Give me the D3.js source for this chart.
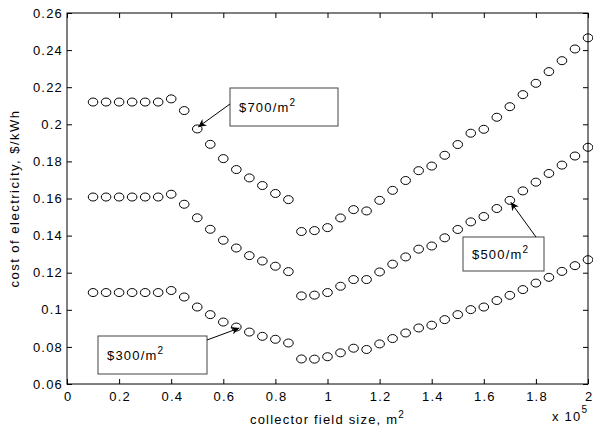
<!DOCTYPE html>
<html>
<head>
<meta charset="utf-8">
<script src="https://cdn.jsdelivr.net/npm/d3@7/dist/d3.min.js"></script>
<style>
  html, body { margin: 0; padding: 0; background: #fff; }
  svg { display: block; font-family: "Liberation Sans", Arial, sans-serif; }
</style>
</head>
<body>
<svg id="chart" width="593" height="430"></svg>
<script>
// Collector field size (x 10^5 m^2)
const fieldSize = [0.10, 0.15, 0.20, 0.25, 0.30, 0.35, 0.40, 0.45, 0.50, 0.55,
  0.60, 0.65, 0.70, 0.75, 0.80, 0.85, 0.90, 0.95, 1.00, 1.05,
  1.10, 1.15, 1.20, 1.25, 1.30, 1.35, 1.40, 1.45, 1.50, 1.55,
  1.60, 1.65, 1.70, 1.75, 1.80, 1.85, 1.90, 1.95, 2.00];

// Cost of electricity ($/kWh) for each collector price
const cost700 = [0.2120, 0.2120, 0.2120, 0.2120, 0.2120, 0.2120, 0.2137, 0.2074, 0.1975, 0.1892,
  0.1815, 0.1756, 0.1711, 0.1670, 0.1627, 0.1594, 0.1422, 0.1427, 0.1443, 0.1495,
  0.1540, 0.1533, 0.1590, 0.1644, 0.1697, 0.1750, 0.1775, 0.1833, 0.1891, 0.1952,
  0.1973, 0.2038, 0.2095, 0.2160, 0.2221, 0.2284, 0.2343, 0.2406, 0.2466];

const cost500 = [0.1608, 0.1608, 0.1608, 0.1608, 0.1608, 0.1608, 0.1623, 0.1569, 0.1496, 0.1434,
  0.1375, 0.1333, 0.1292, 0.1263, 0.1235, 0.1206, 0.1075, 0.1079, 0.1093, 0.1127,
  0.1163, 0.1163, 0.1204, 0.1246, 0.1285, 0.1327, 0.1344, 0.1388, 0.1433, 0.1474,
  0.1503, 0.1546, 0.1590, 0.1641, 0.1688, 0.1735, 0.1780, 0.1829, 0.1876];

const cost300 = [0.1093, 0.1093, 0.1093, 0.1093, 0.1093, 0.1093, 0.1104, 0.1069, 0.1015, 0.0974,
  0.0934, 0.0907, 0.0880, 0.0857, 0.0841, 0.0821, 0.0735, 0.0734, 0.0747, 0.0768,
  0.0793, 0.0786, 0.0816, 0.0845, 0.0875, 0.0902, 0.0917, 0.0947, 0.0974, 0.1001,
  0.1015, 0.1050, 0.1078, 0.1109, 0.1144, 0.1175, 0.1207, 0.1238, 0.1270];

const xTicks = [0, 0.2, 0.4, 0.6, 0.8, 1, 1.2, 1.4, 1.6, 1.8, 2];
const yTicks = [0.06, 0.08, 0.1, 0.12, 0.14, 0.16, 0.18, 0.2, 0.22, 0.24, 0.26];

const svg = d3.select("#chart");
const margin = { top: 13, right: 5, bottom: 46, left: 67 };
const W = 593, H = 430;
const iw = W - margin.left - margin.right;
const ih = H - margin.top - margin.bottom;

const x = d3.scaleLinear().domain([0, 2]).range([margin.left, margin.left + iw]);
const y = d3.scaleLinear().domain([0.06, 0.26]).range([margin.top + ih, margin.top]);

const fmt = d => String(+d.toFixed(2));
const tickLen = 5;
const FONT = "13px";
const SPACING = "1.2px";

// Bottom axis with labels, inward ticks
const gx = svg.append("g").attr("transform", `translate(0,${margin.top + ih})`)
  .call(d3.axisBottom(x).tickValues(xTicks).tickFormat(fmt).tickSizeInner(-tickLen).tickSizeOuter(0).tickPadding(8));
// Top axis, ticks only
const gxt = svg.append("g").attr("transform", `translate(0,${margin.top})`)
  .call(d3.axisTop(x).tickValues(xTicks).tickFormat("").tickSizeInner(-tickLen).tickSizeOuter(0));
// Left axis with labels
const gy = svg.append("g").attr("transform", `translate(${margin.left},0)`)
  .call(d3.axisLeft(y).tickValues(yTicks).tickFormat(fmt).tickSizeInner(-tickLen).tickSizeOuter(0).tickPadding(4));
// Right axis, ticks only
const gyr = svg.append("g").attr("transform", `translate(${margin.left + iw},0)`)
  .call(d3.axisRight(y).tickValues(yTicks).tickFormat("").tickSizeInner(-tickLen).tickSizeOuter(0));

[gx, gxt, gy, gyr].forEach(g => {
  g.select(".domain").remove();
  g.selectAll(".tick line").attr("stroke", "#000").attr("stroke-width", 1);
  g.selectAll("text").attr("fill", "#000").style("font-size", FONT)
    .style("letter-spacing", SPACING)
    .style("font-family", "'Liberation Sans', Arial, sans-serif");
});
// keep bottom labels centred despite trailing letter spacing
gx.selectAll(".tick text").attr("dx", "0.6px");

// Plot frame
svg.append("rect")
  .attr("x", margin.left).attr("y", margin.top)
  .attr("width", iw).attr("height", ih)
  .attr("fill", "none").attr("stroke", "#000").attr("stroke-width", 1);

// Markers
const series = [cost700, cost500, cost300];
series.forEach(vals => {
  svg.append("g").selectAll("ellipse")
    .data(vals.map((v, i) => [fieldSize[i], v]))
    .join("ellipse")
    .attr("cx", d => x(d[0]))
    .attr("cy", d => y(d[1]))
    .attr("rx", 4.8).attr("ry", 4.0)
    .attr("fill", "none")
    .attr("stroke", "#000")
    .attr("stroke-width", 1);
});

// Axis titles
svg.append("text")
  .attr("x", x(1)).attr("y", 424)
  .attr("text-anchor", "middle")
  .style("font-size", FONT).style("letter-spacing", SPACING)
  .html('collector field size, m<tspan dy="-6" font-size="10px">2</tspan>');

svg.append("text")
  .attr("transform", `translate(19,${margin.top + ih / 2}) rotate(-90)`)
  .attr("text-anchor", "middle")
  .style("font-size", FONT).style("letter-spacing", "1.5px")
  .text("cost of electricity, $/kWh");

svg.append("text")
  .attr("x", 552).attr("y", 421)
  .style("font-size", FONT).style("letter-spacing", SPACING)
  .html('x 10<tspan dy="-8" font-size="10px">5</tspan>');

// Annotations: text box + arrow pointing at a marker
const defs = svg.append("defs");
defs.append("marker")
  .attr("id", "arrowhead")
  .attr("viewBox", "0 0 10 10")
  .attr("refX", 10).attr("refY", 5)
  .attr("markerWidth", 11).attr("markerHeight", 8)
  .attr("markerUnits", "userSpaceOnUse")
  .attr("orient", "auto")
  .append("path").attr("d", "M0,0 L10,5 L0,10 L3,5 Z").attr("fill", "#000");

const annotations = [
  { label: "$700", box: [230, 88, 108, 38], from: [230, 104], series: cost700, idx: 8, off: [1, -2] },
  { label: "$500", box: [463, 237, 81, 34], from: [536, 237], series: cost500, idx: 32, off: [1, 2] },
  { label: "$300", box: [98, 336, 109, 38], from: [207, 340], series: cost300, idx: 11, off: [3, 1] }
];

annotations.forEach(a => {
  const [bx, by, bw, bh] = a.box;
  svg.append("rect")
    .attr("x", bx).attr("y", by).attr("width", bw).attr("height", bh)
    .attr("fill", "#fff").attr("stroke", "#444").attr("stroke-width", 1);
  svg.append("text")
    .attr("x", bx + 9).attr("y", by + bh / 2 + 5)
    .style("font-size", FONT).style("letter-spacing", SPACING)
    .html(`${a.label}/m<tspan dy="-6" font-size="10px">2</tspan>`);
  const tx = x(fieldSize[a.idx]) + a.off[0];
  const ty = y(a.series[a.idx]) + a.off[1];
  svg.append("line")
    .attr("x1", a.from[0]).attr("y1", a.from[1])
    .attr("x2", tx).attr("y2", ty)
    .attr("stroke", "#000").attr("stroke-width", 1)
    .attr("marker-end", "url(#arrowhead)");
});
</script>
</body>
</html>
